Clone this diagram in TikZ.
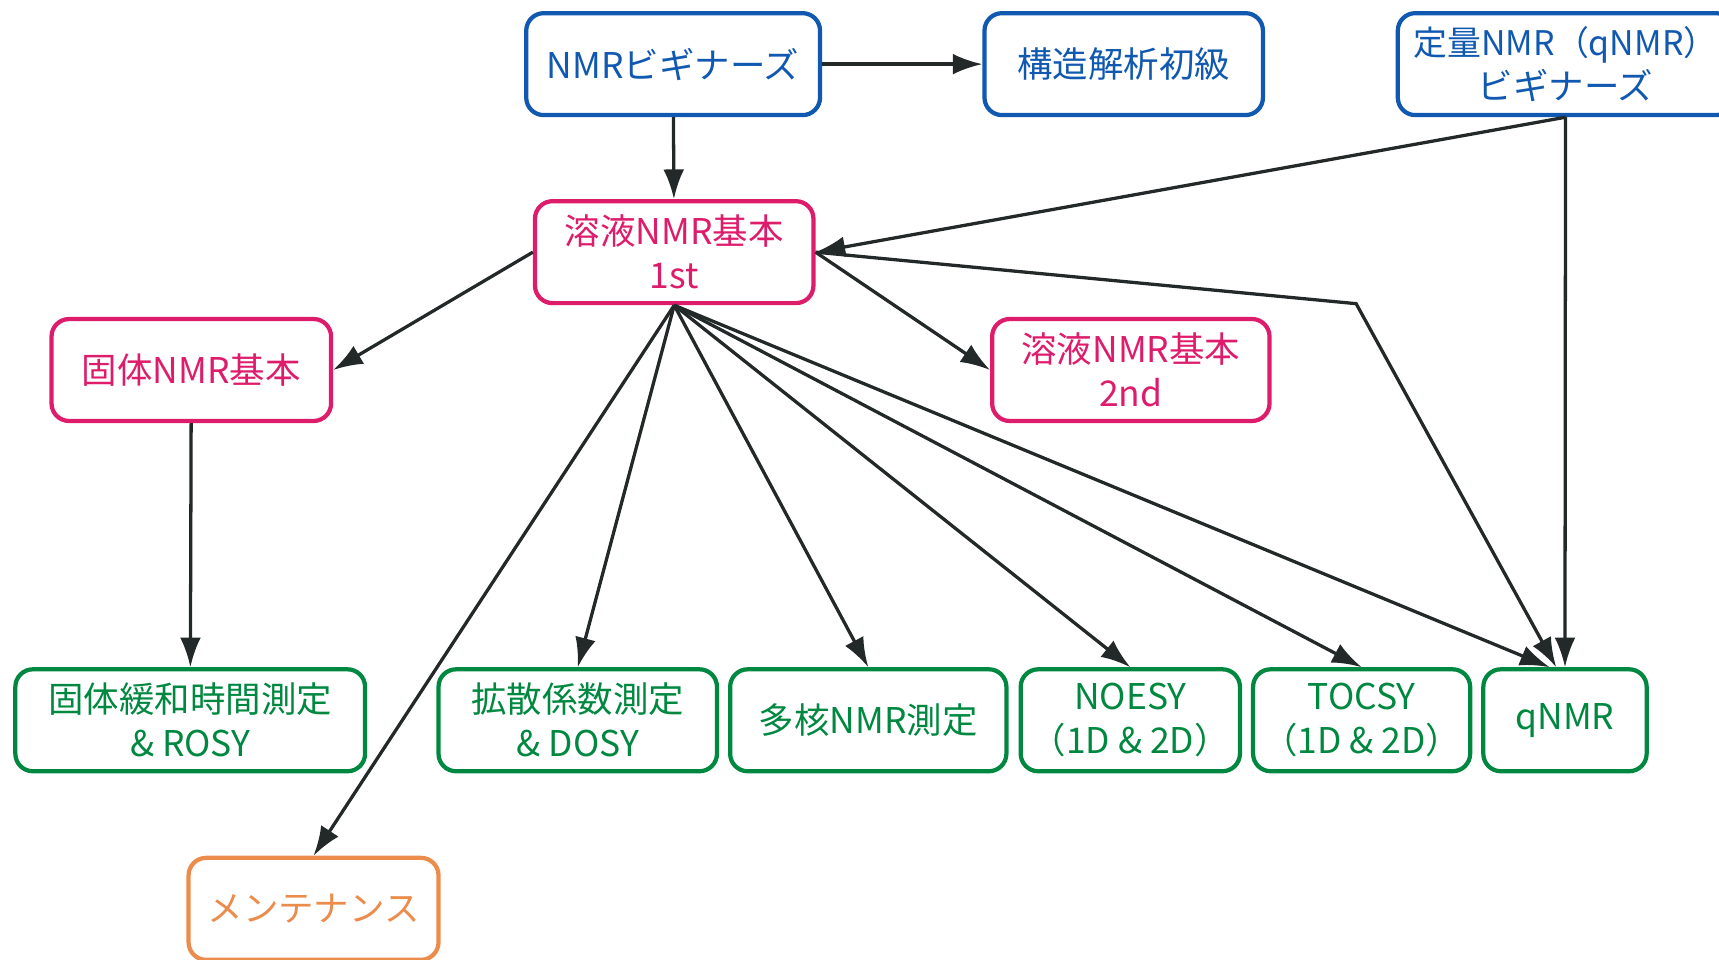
\documentclass[tikz,border=0pt]{standalone}
\usepackage{fontspec}
\setmainfont{Noto Sans CJK JP}
\usetikzlibrary{arrows.meta}

\definecolor{nmrblue}{RGB}{16,88,176}
\definecolor{nmrpink}{RGB}{222,28,108}
\definecolor{nmrgreen}{RGB}{0,136,64}
\definecolor{nmrorange}{RGB}{236,140,76}
\definecolor{arrowgray}{RGB}{35,40,40}

\tikzset{
    box/.style={draw, line width=1.1pt, rounded corners=1.6mm, align=center,
        inner sep=0pt, minimum height=0.93cm, font=\fontsize{9.2pt}{11.4pt}\selectfont},
    bluebox/.style={box, draw=nmrblue, text=nmrblue},
    pinkbox/.style={box, draw=nmrpink, text=nmrpink},
    greenbox/.style={box, draw=nmrgreen, text=nmrgreen},
    orangebox/.style={box, draw=nmrorange, text=nmrorange},
    arr/.style={-{Latex[length=2.7mm,width=1.9mm]}, line width=0.85pt, draw=arrowgray},
}

\begin{document}
\begin{tikzpicture}
                \useasboundingbox (0,0) rectangle (15.68,-8.75);
                \clip (0,0) rectangle (15.68,-8.75);

                % Beginner courses
                \node[bluebox, minimum width=2.68cm] (begin) at (6.14,-0.585) {NMRビギナーズ};
                \node[bluebox, minimum width=2.54cm] (struct) at (10.25,-0.585) {構造解析初級};
                \node[bluebox, minimum width=3.06cm] (qbegin) at (14.28,-0.585)
                    {{\fontsize{8.8pt}{11.4pt}\selectfont 定量NMR（qNMR）}\\ビギナーズ};

                % Basic courses
                \node[pinkbox, minimum width=2.54cm] (sol1) at (6.15,-2.30) {溶液NMR基本\\1st};
                \node[pinkbox, minimum width=2.55cm] (solid) at (1.745,-3.375) {固体NMR基本};
                \node[pinkbox, minimum width=2.53cm] (sol2) at (10.315,-3.375) {溶液NMR基本\\2nd};

                % Measurement courses
                \node[greenbox, minimum width=3.19cm] (rosy) at (1.735,-6.57) {固体緩和時間測定\\\& ROSY};
                \node[greenbox, minimum width=2.54cm] (dosy) at (5.27,-6.57) {拡散係数測定\\\& DOSY};
                \node[greenbox, minimum width=2.52cm] (multi) at (7.92,-6.57) {多核NMR測定};
                \node[greenbox, minimum width=2.00cm] (noesy) at (10.31,-6.57) {NOESY\\（1D \& 2D）};
                \node[greenbox, minimum width=1.98cm] (tocsy) at (12.42,-6.57) {TOCSY\\（1D \& 2D）};
                \node[greenbox, minimum width=1.49cm] (qnmr) at (14.275,-6.57) {qNMR};

                % Maintenance
                \node[orangebox, minimum width=2.28cm] (maint) at (2.86,-8.29) {メンテナンス};

                \coordinate (bend) at (12.37,-2.77);

                % Arrows from the top row
                \draw[arr] (begin) -- (struct);
                \draw[arr] (begin) -- (sol1);
                \draw[arr] (qbegin.south) -- (sol1.east);
                \draw[arr] (qbegin.south) -- (qnmr.north);

                % Arrows from 溶液NMR基本 1st
                \draw[arr] (sol1.west) -- (solid.east);
                \draw[arr] (sol1.east) -- (sol2.west);
                \draw[arr] (sol1.east) -- (bend) -- ([xshift=-0.8mm]qnmr.north);
                \draw[arr] (sol1.south) -- (maint.north);
                \draw[arr] (sol1.south) -- (dosy.north);
                \draw[arr] (sol1.south) -- (multi.north);
                \draw[arr] (sol1.south) -- (noesy.north);
                \draw[arr] (sol1.south) -- (tocsy.north);
                \draw[arr] (sol1.south) -- ([xshift=-1.4mm]qnmr.north);

                % Solid state
                \draw[arr] (solid) -- (rosy);

            \end{tikzpicture}
\end{document}
